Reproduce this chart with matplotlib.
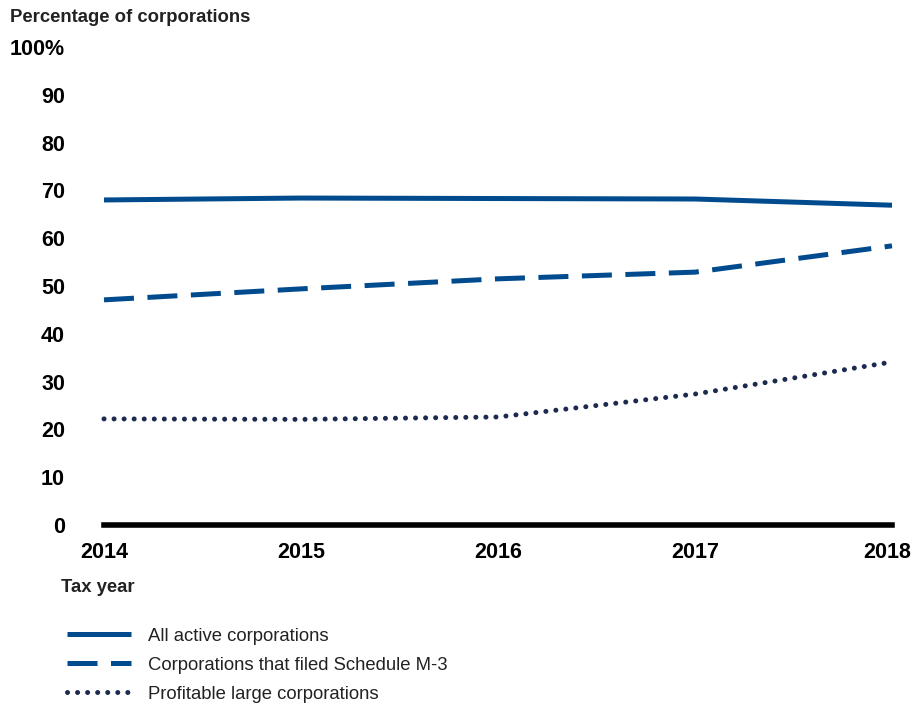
import matplotlib.pyplot as plt
import matplotlib.transforms as mtransforms
import numpy as np

plt.rcParams['font.family'] = ['Liberation Sans', 'DejaVu Sans']

years = [2014, 2015, 2016, 2017, 2018]
all_active = [68.0, 68.4, 68.3, 68.2, 66.9]
schedule_m3 = [47.1, 49.4, 51.5, 52.9, 58.4]
profitable_large = [22.2, 22.1, 22.6, 27.4, 34.1]

yticks = [0, 10, 20, 30, 40, 50, 60, 70, 80, 90, 100]
ytick_labels = ['0', '10', '20', '30', '40', '50', '60', '70', '80', '90', '100%']

blue = '#004B8D'
navy = '#1C2A4F'

fig = plt.figure(figsize=(9.23, 7.04), dpi=100)
ax = fig.add_axes([104/923, 1-525/704, (892-104)/923, (525-47)/704])

l1, = ax.plot(years, all_active, color=blue, lw=3.6, solid_capstyle='butt',
              label='All active corporations', clip_on=False)
l2, = ax.plot(years, schedule_m3, color=blue, lw=3.6, dashes=(6, 2.7),
              dash_capstyle='butt', label='Corporations that filed Schedule M-3', clip_on=False)
l3, = ax.plot(years, profitable_large, color=navy, lw=3.6, linestyle=(0, (0.01, 2)),
              dash_capstyle='round', label='Profitable large corporations', clip_on=False)

ax.axhline(0, color='black', lw=4, clip_on=False)

ax.set_xlim(2014, 2018)
ax.set_ylim(0, 100)
for s in ax.spines.values():
    s.set_visible(False)

ax.set_yticks(yticks)
ax.set_yticklabels(ytick_labels, fontsize=15.5, fontweight='bold')
ax.set_xticks(years)
ax.set_xticklabels([str(y) for y in years], fontsize=15.5, fontweight='bold')
ax.tick_params(axis='y', length=0, pad=28)
ax.tick_params(axis='x', length=0, pad=12)
# last year label sits a little left in the original
lab = ax.get_xticklabels()[-1]
lab.set_transform(lab.get_transform() + mtransforms.ScaledTranslation(-0.05, 0, fig.dpi_scale_trans))

fig.text(10/923, 1-17/704, 'Percentage of corporations', fontsize=13.3, fontweight='bold',
         va='center', ha='left', color='#222222')
fig.text(61/923, 1-587/704, 'Tax year', fontsize=13.3, fontweight='bold',
         va='center', ha='left', color='#222222')

leg = fig.legend(handles=[l1, l2, l3], loc='upper left', bbox_to_anchor=(50/923, 1-611/704),
                 frameon=False, fontsize=13.3, handlelength=3.5, handletextpad=0.9,
                 labelspacing=0.65)
for t in leg.get_texts():
    t.set_color('#222222')

fig.savefig('out.png', dpi=100)
